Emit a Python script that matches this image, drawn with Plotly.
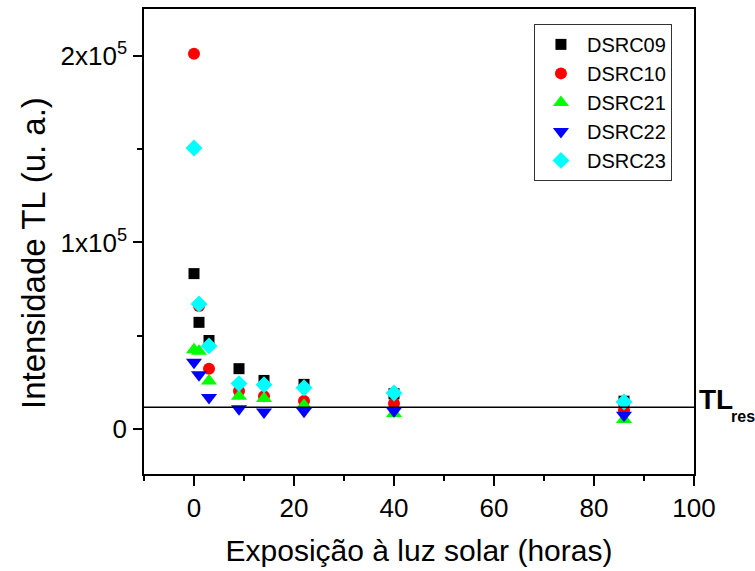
import plotly.graph_objects as go

# Exposure time (hours) at which each sample was read
hours = [0, 1, 3, 9, 14, 22, 40, 86]

# TL intensity (arbitrary units) per sample
dsrc09 = [83300, 57200, 47500, 32400, 26100, 24000, 19000, 15000]
dsrc10 = [201000, 66000, 32400, 20400, 17600, 15100, 13700, 10100]
dsrc21 = [42500, 41700, 25800, 17600, 16400, 12800, 8400, 5200]
dsrc22 = [35900, 29200, 16900, 11000, 9200, 9600, 9800, 7500]
dsrc23 = [150600, 67000, 44600, 24400, 23800, 22200, 19400, 14600]

# Residual TL level
tl_res = 11800

y_tickvals = [0, 100000, 200000]
y_ticktext = ["0", "1x10<sup>5</sup>", "2x10<sup>5</sup>"]
x_tickvals = [0, 20, 40, 60, 80, 100]

series = [
    ("DSRC09", dsrc09, "square", "#000000", 11),
    ("DSRC10", dsrc10, "circle", "#FF0000", 12),
    ("DSRC21", dsrc21, "triangle-up", "#00FF00", 14),
    ("DSRC22", dsrc22, "triangle-down", "#0000FF", 14),
    ("DSRC23", dsrc23, "diamond", "#00FFFF", 13),
]

font_family = "Liberation Sans, Arial, sans-serif"

fig = go.Figure()
for name, vals, sym, col, size in series:
    fig.add_trace(go.Scatter(
        x=hours, y=vals, mode="markers", name=name,
        marker=dict(symbol=sym, color=col, size=size, line=dict(width=0)),
    ))

# Horizontal reference line across the plot area
fig.add_shape(type="line", xref="paper", x0=0, x1=1, yref="y", y0=tl_res, y1=tl_res,
              line=dict(color="#000000", width=1.5))

fig.add_annotation(xref="paper", x=1, xshift=3, xanchor="left",
                   yref="y", y=tl_res, yshift=8, yanchor="middle",
                   text="<b>TL</b>", showarrow=False,
                   font=dict(family=font_family, size=28, color="#000000"))
fig.add_annotation(xref="paper", x=1, xshift=35, xanchor="left",
                   yref="y", y=tl_res, yshift=-9, yanchor="middle",
                   text="<b>res</b>", showarrow=False,
                   font=dict(family=font_family, size=16, color="#000000"))

# Y axis title, set as a rotated label left of the tick labels
fig.add_annotation(xref="paper", x=-0.202, yref="paper", y=0.475,
                   xanchor="center", yanchor="middle", textangle=-90,
                   text="Intensidade TL (u. a.)", showarrow=False,
                   font=dict(family=font_family, size=33, color="#000000"))

fig.update_layout(
    width=755, height=571,
    margin=dict(l=144, r=61, t=7, b=97),
    paper_bgcolor="white", plot_bgcolor="white",
    font=dict(family=font_family, color="#000000"),
    showlegend=True,
    legend=dict(
        x=0.709, y=0.968, xanchor="left", yanchor="top",
        bgcolor="white", bordercolor="#333333", borderwidth=1,
        font=dict(family=font_family, size=20, color="#000000"),
        itemwidth=42,
    ),
    xaxis=dict(
        range=[-10, 100], tickvals=x_tickvals,
        ticks="outside", ticklen=10, tickwidth=1.5, tickcolor="#000000",
        minor=dict(tickvals=[-10, 10, 30, 50, 70, 90], ticks="outside",
                   ticklen=5, tickwidth=1.5, tickcolor="#000000"),
        showline=True, linecolor="#000000", linewidth=1.5, mirror=True,
        showgrid=False, zeroline=False,
        tickfont=dict(family=font_family, size=26),
        title=dict(text="Exposição à luz solar (horas)", standoff=18,
                   font=dict(family=font_family, size=30)),
    ),
    yaxis=dict(
        range=[-24000, 225000], tickvals=y_tickvals, ticktext=y_ticktext,
        ticks="outside", ticklen=9, tickwidth=1.5, tickcolor="#000000",
        minor=dict(tickvals=[50000, 150000], ticks="outside",
                   ticklen=5, tickwidth=1.5, tickcolor="#000000"),
        showline=True, linecolor="#000000", linewidth=1.5, mirror=True,
        showgrid=False, zeroline=False,
        tickfont=dict(family=font_family, size=26),
        ticklabelstandoff=1,
    ),
)

fig.write_html("out.html")
